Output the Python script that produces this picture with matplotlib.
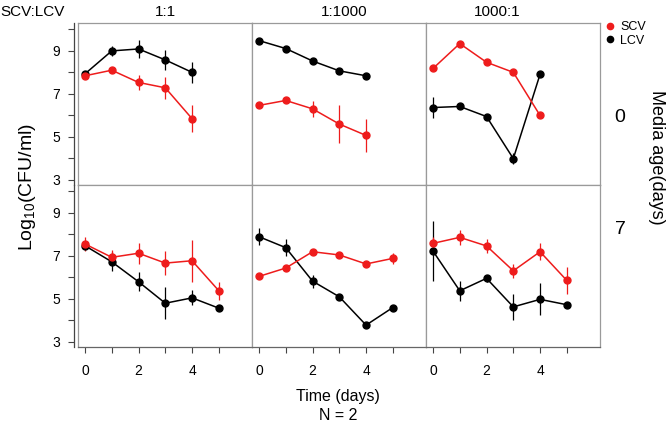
#!/usr/bin/env python3
"""SCV / LCV competition time courses, faceted by ratio and media age."""

import matplotlib

matplotlib.use("Agg")
import matplotlib.pyplot as plt  # noqa: E402
from matplotlib.lines import Line2D  # noqa: E402

plt.rcParams["font.family"] = ["Liberation Sans", "DejaVu Sans"]
plt.rcParams["mathtext.default"] = "regular"

# ---------------------------------------------------------------------------
# Data (log10 CFU/ml, mean +/- error)
# ---------------------------------------------------------------------------

ratios = ["1:1", "1:1000", "1000:1"]
media_ages = ["0", "7"]

days_age0 = [0, 1, 2, 3, 4]
days_age7 = [0, 1, 2, 3, 4, 5]

# media age 0 days, one list per ratio
scv_age0 = [[7.84, 8.10, 7.53, 7.28, 5.84],
            [6.46, 6.69, 6.30, 5.59, 5.06],
            [8.18, 9.34, 8.47, 8.00, 5.99]]
scv_age0_err = [[0.15, 0.10, 0.33, 0.50, 0.64],
                [0.08, 0.08, 0.36, 0.90, 0.78],
                [0.08, 0.08, 0.08, 0.08, 0.08]]
lcv_age0 = [[7.93, 9.00, 9.09, 8.58, 8.00],
            [9.48, 9.11, 8.53, 8.07, 7.84],
            [6.36, 6.41, 5.94, 3.98, 7.91]]
lcv_age0_err = [[0.10, 0.25, 0.42, 0.45, 0.50],
                [0.06, 0.06, 0.06, 0.06, 0.06],
                [0.47, 0.12, 0.08, 0.25, 0.08]]

# media age 7 days
scv_age7 = [[7.55, 6.93, 7.12, 6.66, 6.77, 5.37],
            [6.04, 6.43, 7.19, 7.04, 6.62, 6.88],
            [7.58, 7.86, 7.46, 6.30, 7.19, 5.85]]
scv_age7_err = [[0.33, 0.33, 0.50, 0.55, 0.97, 0.43],
                [0.08, 0.08, 0.08, 0.08, 0.08, 0.27],
                [0.30, 0.35, 0.33, 0.33, 0.39, 0.65]]
lcv_age7 = [[7.47, 6.72, 5.79, 4.79, 5.04, 4.56],
            [7.89, 7.38, 5.82, 5.09, 3.77, 4.59],
            [7.22, 5.37, 5.95, 4.62, 4.97, 4.72]]
lcv_age7_err = [[0.15, 0.45, 0.45, 0.75, 0.35, 0.15],
                [0.39, 0.39, 0.30, 0.08, 0.08, 0.12],
                [1.40, 0.47, 0.15, 0.60, 0.75, 0.10]]

SCV_COLOR = "#ee1c1c"
LCV_COLOR = "#000000"
FRAME = "#9a9a9a"
AXIS = "#444444"

# ---------------------------------------------------------------------------
# Layout (pixel based, 666 x 422)
# ---------------------------------------------------------------------------

W, H = 666, 422
fig = plt.figure(figsize=(W / 100, H / 100), dpi=100)

left_px, panel_w = 78.3, 174.0
rows = [(23, 185), (185, 347)]  # top/bottom pixel rows of each panel row

rows_data = [
    (days_age0, scv_age0, scv_age0_err, lcv_age0, lcv_age0_err),
    (days_age7, scv_age7, scv_age7_err, lcv_age7, lcv_age7_err),
]

for r, (top, bot) in enumerate(rows):
    days, scv, scv_err, lcv, lcv_err = rows_data[r]
    for c in range(3):
        x0 = left_px + c * panel_w
        ax = fig.add_axes([x0 / W, 1 - bot / H, panel_w / W, (bot - top) / H])

        ax.errorbar(days, lcv[c], yerr=lcv_err[c], fmt="-o", color=LCV_COLOR,
                    ms=5, lw=1.1, elinewidth=0.9, capsize=0)
        ax.errorbar(days, scv[c], yerr=scv_err[c], fmt="-o", color=SCV_COLOR,
                    ms=5, lw=1.1, elinewidth=0.9, capsize=0)

        ax.set_xlim(-0.25, 6.25)
        ax.set_ylim(2.75, 10.3)

        for side in ("top", "right", "left", "bottom"):
            ax.spines[side].set_color(FRAME)
            ax.spines[side].set_linewidth(0.9)

        ax.tick_params(colors=AXIS, length=4, width=0.8, labelsize=10,
                       labelcolor="black")

        if c == 0:
            ax.set_yticks(range(3, 11))
            ax.set_yticklabels([str(v) if v % 2 else "" for v in range(3, 11)],
                               rotation=90, va="center")
            ax.tick_params(axis="y", pad=6)
            ax.spines["left"].set_position(("outward", 3))
            ax.spines["left"].set_color(AXIS)
            # keep the grey panel frame where the spine used to be
            ax.add_line(Line2D([0, 0], [0, 1], transform=ax.transAxes,
                               color=FRAME, lw=0.9, clip_on=False))
        else:
            ax.set_yticks([])

        if r == 1:
            ax.set_xticks(range(0, 6))
            ax.set_xticklabels([str(v) if v % 2 == 0 else "" for v in range(0, 6)])
            ax.tick_params(axis="x", pad=8)
            ax.spines["bottom"].set_color("#666666")
        else:
            ax.set_xticks([])

# ---------------------------------------------------------------------------
# Strip labels, legend and axis titles
# ---------------------------------------------------------------------------

fig.text(0 / W, 1 - 12 / H, "SCV:LCV", fontsize=11, ha="left", va="center")
for x, label in zip([165, 344, 497], ratios):
    fig.text(x / W, 1 - 12 / H, label, fontsize=11, ha="center", va="center")

for y, age in zip([117, 230], media_ages):
    fig.text(620 / W, 1 - y / H, age, fontsize=14, ha="center", va="center")
fig.text(657 / W, 1 - 157 / H, "Media age(days)", fontsize=13, rotation=270,
         ha="center", va="center")

fig.legend(handles=[
    Line2D([], [], ls="none", marker="o", ms=4.5, color=SCV_COLOR, label="SCV"),
    Line2D([], [], ls="none", marker="o", ms=4.5, color=LCV_COLOR, label="LCV"),
], loc="upper left", bbox_to_anchor=(604 / W, 1 - 19 / H), frameon=False,
    fontsize=9, handlelength=0.6, handletextpad=0.5, labelspacing=0.1,
    borderpad=0.2, borderaxespad=0)

fig.text(28 / W, 1 - 187 / H, "Log$_{10}$(CFU/ml)", fontsize=14, rotation=90,
         ha="center", va="center")
fig.text(338 / W, 1 - 397 / H, "Time (days)", fontsize=11.5, ha="center",
         va="center")
fig.text(338 / W, 1 - 416 / H, "N = 2", fontsize=11.5, ha="center", va="center")

fig.savefig("out.png", dpi=100)
plt.close(fig)
